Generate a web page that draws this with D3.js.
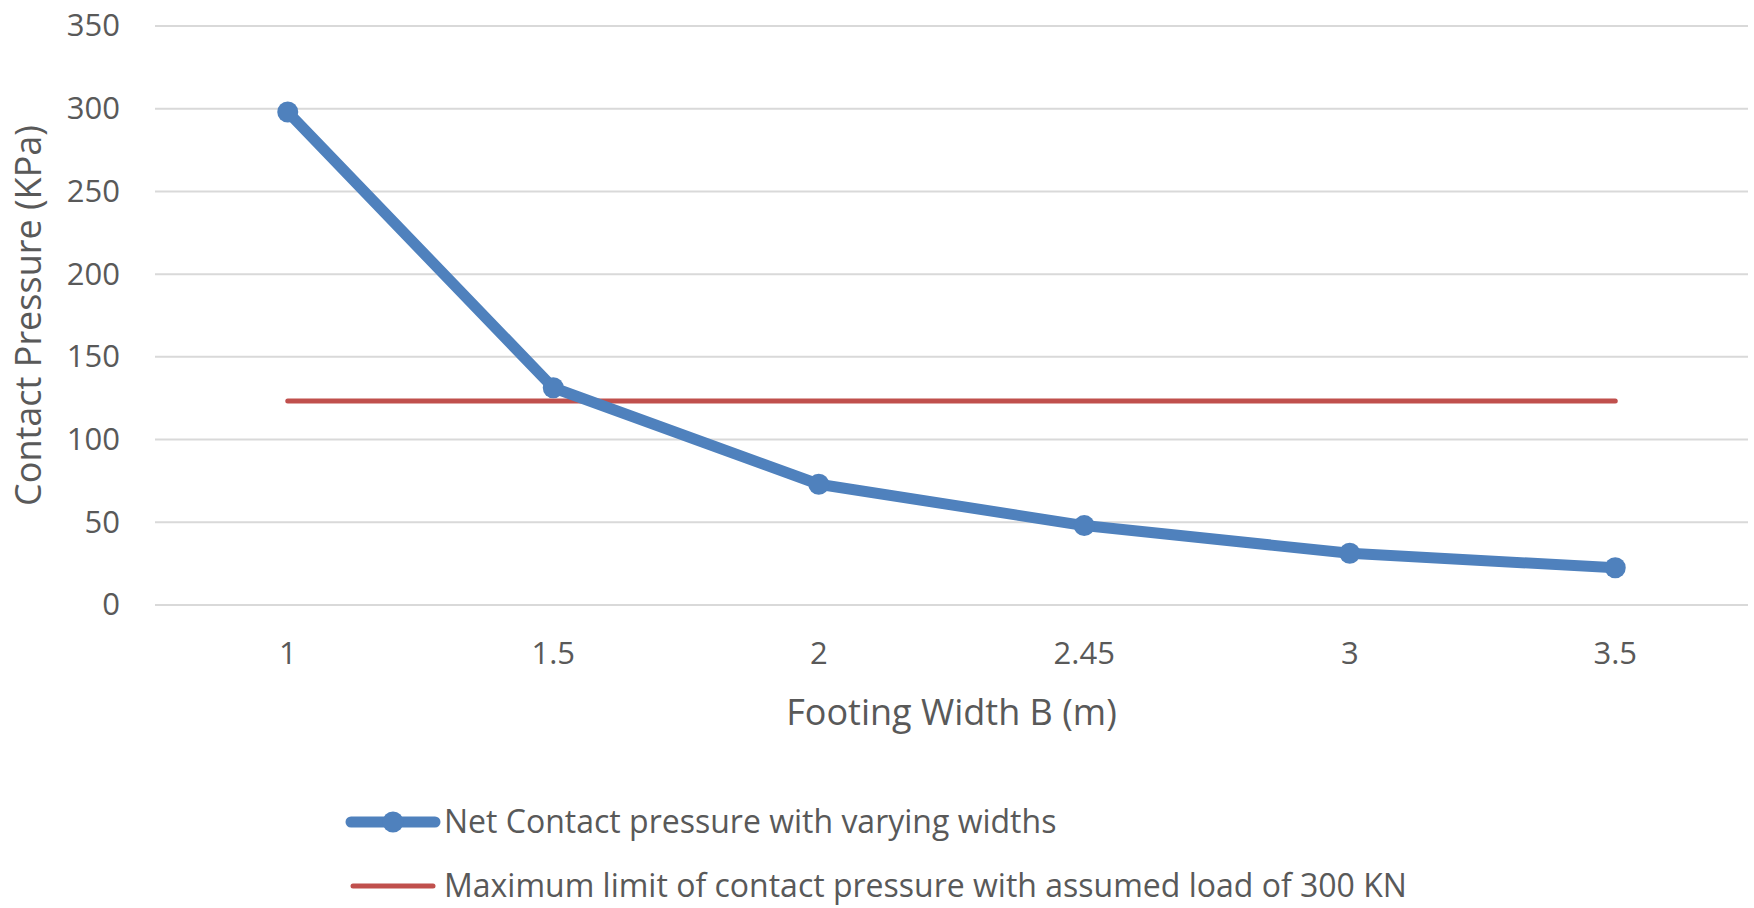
<!DOCTYPE html>
<html>
<head>
<meta charset="utf-8">
<script src="https://cdn.jsdelivr.net/npm/d3@7"></script>
<style>
  body { margin: 0; background: #fff; }
  text { font-family: "Open Sans", sans-serif; fill: #595959; }
</style>
</head>
<body>
<svg id="chart"></svg>
<script>
// Data
const widths = ["1", "1.5", "2", "2.45", "3", "3.5"];
const netPressure = [298, 131.3, 73, 48, 31.3, 22.5];
const maxLimit = [123.3, 123.3, 123.3, 123.3, 123.3, 123.3];
const yTicks = [0, 50, 100, 150, 200, 250, 300, 350];
const seriesNames = [
  "Net Contact pressure with varying widths",
  "Maximum limit of contact pressure with assumed load of 300 KN"
];

// Chart dimensions
const width = 1754;
const height = 908;
const margin = { top: 26, right: 6, bottom: 303, left: 155 };

const svg = d3.select("#chart")
  .attr("width", width)
  .attr("height", height);

// Scales
const x = d3.scaleBand()
  .domain(widths)
  .range([margin.left, width - margin.right]);

const y = d3.scaleLinear()
  .domain([0, 350])
  .range([height - margin.bottom, margin.top]);

const cx = d => x(d) + x.bandwidth() / 2;

// Gridlines
svg.append("g")
  .selectAll("line")
  .data(yTicks)
  .enter()
  .append("line")
  .attr("x1", margin.left)
  .attr("x2", width - margin.right)
  .attr("y1", d => y(d))
  .attr("y2", d => y(d))
  .attr("stroke", "#d9d9d9")
  .attr("stroke-width", 2);

// Y axis labels
const yAxis = d3.axisLeft(y).tickValues(yTicks).tickSize(0).tickPadding(35);
svg.append("g")
  .attr("transform", `translate(${margin.left},0)`)
  .call(yAxis)
  .call(g => g.select(".domain").remove())
  .selectAll("text")
  .style("font-size", "31px")
  .style("font-family", "'Open Sans', sans-serif")
  .attr("fill", "#595959");

// X axis labels
const xAxis = d3.axisBottom(x).tickSize(0).tickPadding(37);
svg.append("g")
  .attr("transform", `translate(0,${height - margin.bottom})`)
  .call(xAxis)
  .call(g => g.select(".domain").remove())
  .selectAll("text")
  .style("font-size", "31px")
  .style("font-family", "'Open Sans', sans-serif")
  .attr("fill", "#595959");

// Axis titles
svg.append("text")
  .attr("transform", `translate(41,${(y(0) + y(350)) / 2}) rotate(-90)`)
  .attr("text-anchor", "middle")
  .style("font-size", "36px")
  .text("Contact Pressure (KPa)");

svg.append("text")
  .attr("x", (margin.left + width - margin.right) / 2)
  .attr("y", 725)
  .attr("text-anchor", "middle")
  .style("font-size", "36px")
  .text("Footing Width B (m)");

// Max limit line
const line = d3.line()
  .x((d, i) => cx(widths[i]))
  .y(d => y(d));

svg.append("path")
  .datum(maxLimit)
  .attr("d", line)
  .attr("fill", "none")
  .attr("stroke", "#c0504d")
  .attr("stroke-width", 5)
  .attr("stroke-linecap", "round");

// Net pressure line
svg.append("path")
  .datum(netPressure)
  .attr("d", line)
  .attr("fill", "none")
  .attr("stroke", "#4f81bd")
  .attr("stroke-width", 11)
  .attr("stroke-linejoin", "round");

svg.append("g")
  .selectAll("circle")
  .data(netPressure)
  .enter()
  .append("circle")
  .attr("cx", (d, i) => cx(widths[i]))
  .attr("cy", d => y(d))
  .attr("r", 10.5)
  .attr("fill", "#4f81bd");

// Legend
const legend = svg.append("g");
const legendY = [822, 886];

legend.append("line")
  .attr("x1", 351).attr("x2", 435)
  .attr("y1", legendY[0]).attr("y2", legendY[0])
  .attr("stroke", "#4f81bd")
  .attr("stroke-width", 11)
  .attr("stroke-linecap", "round");
legend.append("circle")
  .attr("cx", 393).attr("cy", legendY[0])
  .attr("r", 10.5)
  .attr("fill", "#4f81bd");

legend.append("line")
  .attr("x1", 353).attr("x2", 433)
  .attr("y1", legendY[1]).attr("y2", legendY[1])
  .attr("stroke", "#c0504d")
  .attr("stroke-width", 5)
  .attr("stroke-linecap", "round");

legend.selectAll(".legend-text")
  .data(seriesNames)
  .enter()
  .append("text")
  .attr("class", "legend-text")
  .attr("x", 444)
  .attr("y", (d, i) => legendY[i])
  .attr("dy", "0.35em")
  .style("font-size", "32px")
  .text(d => d);
</script>
</body>
</html>
